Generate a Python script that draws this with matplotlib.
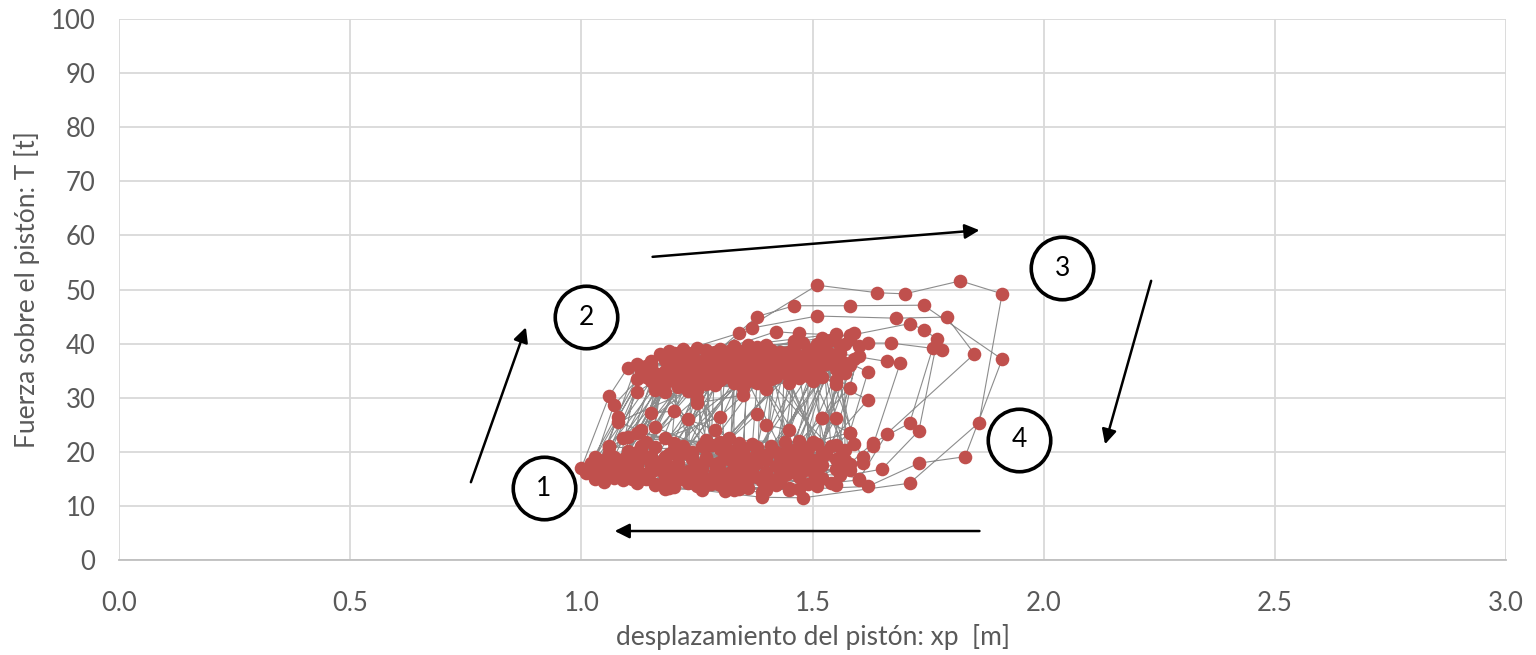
import matplotlib
matplotlib.use("Agg")
import matplotlib.pyplot as plt

plt.rcParams['font.family'] = ['Lato', 'DejaVu Sans']

# piston displacement [m] and force [t], in recorded order (loops)
xp_outer = [
    1.00, 1.06, 1.10, 1.20, 1.34, 1.51, 1.64, 1.70, 1.82, 1.91, 1.86, 1.71, 1.48, 1.39, 1.20, 1.05,
    1.02, 1.07, 1.15, 1.30, 1.38, 1.46, 1.58, 1.74, 1.91, 1.83, 1.73, 1.62, 1.45, 1.25, 1.08,
    1.04, 1.08, 1.13, 1.27, 1.37, 1.51, 1.68, 1.79, 1.85, 1.66, 1.60, 1.40, 1.18, 1.06,
    1.05, 1.12, 1.22, 1.42, 1.47, 1.58, 1.71, 1.74, 1.77, 1.73, 1.65, 1.50, 1.30, 1.10,
    1.07, 1.16, 1.30, 1.45, 1.62, 1.67, 1.78, 1.76, 1.71, 1.63, 1.57, 1.42, 1.25, 1.09,
    1.08, 1.18, 1.35, 1.50, 1.66, 1.69, 1.63, 1.61, 1.56, 1.40, 1.20,
    1.10, 1.20, 1.40, 1.55, 1.62, 1.58, 1.55, 1.48, 1.30, 1.12,
    1.12, 1.22, 1.38, 1.52, 1.58, 1.52, 1.55, 1.50, 1.35, 1.15,
    1.13, 1.25, 1.33, 1.48, 1.62, 1.52, 1.38, 1.18,
]
T_outer = [
    17.0, 30.3, 35.5, 38.2, 41.9, 50.8, 49.4, 49.2, 51.6, 49.2, 25.4, 14.2, 11.5, 11.6, 13.5, 14.4,
    16.0, 28.6, 36.0, 39.0, 45.0, 47.0, 47.0, 47.1, 37.1, 19.1, 17.9, 13.6, 13.0, 14.0, 15.5,
    18.5, 26.5, 34.0, 37.5, 42.9, 45.1, 44.7, 44.9, 38.1, 23.3, 14.8, 13.0, 14.5, 16.5,
    17.5, 31.0, 36.5, 42.2, 41.9, 41.5, 43.7, 42.6, 40.8, 23.9, 16.8, 14.5, 15.0, 16.0,
    19.0, 33.5, 36.0, 38.5, 40.1, 40.1, 38.9, 39.2, 25.3, 21.6, 17.0, 15.0, 16.0, 17.0,
    18.0, 35.0, 37.0, 39.0, 36.7, 36.5, 21.0, 19.1, 15.7, 16.0, 15.5,
    19.5, 34.5, 36.5, 37.5, 34.8, 23.5, 21.3, 16.5, 16.5, 17.5,
    20.0, 33.0, 35.5, 36.0, 31.8, 26.2, 26.2, 18.5, 17.0, 18.0,
    21.0, 30.0, 35.0, 35.5, 29.6, 20.0, 18.0, 19.0,
]

xp_inner = [
    1.15, 1.17, 1.28, 1.42, 1.40, 1.26,
    1.11, 1.19, 1.31, 1.46, 1.45, 1.28,
    1.09, 1.21, 1.34, 1.49, 1.49, 1.33,
    1.14, 1.24, 1.36, 1.51, 1.52, 1.36,
    1.06, 1.26, 1.39, 1.53, 1.56, 1.42,
    1.12, 1.29, 1.41, 1.55, 1.59, 1.44,
    1.17, 1.32, 1.44, 1.57, 1.57, 1.47,
    1.19, 1.35, 1.47, 1.54, 1.43, 1.30,
    1.21, 1.37, 1.49, 1.59, 1.50, 1.33,
    1.23, 1.40, 1.52, 1.56, 1.46, 1.24,
    1.16, 1.43, 1.48, 1.58, 1.41, 1.27,
    1.25, 1.45, 1.55, 1.60, 1.52, 1.35,
    1.27, 1.47, 1.38, 1.27, 1.22, 1.13,
    1.29, 1.25, 1.15, 1.12, 1.08, 1.03,
    1.31, 1.30, 1.20, 1.16, 1.12, 1.05,
    1.33, 1.33, 1.23, 1.18, 1.15, 1.09,
    1.35, 1.36, 1.26, 1.21, 1.19, 1.11,
    1.37, 1.42, 1.31, 1.24, 1.23, 1.16,
    1.39, 1.44, 1.34, 1.28, 1.26, 1.18,
    1.41, 1.46, 1.37, 1.31, 1.29, 1.21,
    1.43, 1.50, 1.40, 1.33, 1.32, 1.23,
    1.45, 1.52, 1.43, 1.36, 1.35, 1.26,
    1.47, 1.54, 1.46, 1.39, 1.38, 1.29,
    1.49, 1.57, 1.48, 1.41, 1.40, 1.31,
    1.51, 1.55, 1.50, 1.44, 1.43, 1.34,
    1.03, 1.15, 1.23, 1.34, 1.32, 1.20,
    1.07, 1.18, 1.27, 1.38, 1.37, 1.24,
    1.04, 1.14, 1.20, 1.29, 1.28, 1.17,
    1.02, 1.13, 1.19, 1.26, 1.25, 1.14,
    1.10, 1.22, 1.30, 1.40, 1.47, 1.36,
    1.13, 1.24, 1.35, 1.45, 1.54, 1.39,
    1.18, 1.28, 1.33, 1.51, 1.58, 1.55,
    1.20, 1.31, 1.41, 1.53, 1.61, 1.46,
    1.22, 1.36, 1.38, 1.50, 1.53, 1.48,
    1.26, 1.19, 1.31, 1.43, 1.51, 1.38,
    1.28, 1.27, 1.39, 1.46, 1.44, 1.34,
    1.30, 1.23, 1.34, 1.48, 1.57, 1.42,
    1.32, 1.16, 1.25, 1.37, 1.48, 1.37,
    1.34, 1.20, 1.29, 1.42, 1.55, 1.44,
    1.36, 1.14, 1.22, 1.35, 1.60, 1.49,
    1.06, 1.16, 1.25, 1.36, 1.44, 1.30,
    1.09, 1.18, 1.29, 1.40, 1.50, 1.38,
    1.12, 1.21, 1.32, 1.52, 1.54, 1.40,
    1.16, 1.25, 1.36, 1.55, 1.58, 1.45,
    1.08, 1.23, 1.33, 1.57, 1.52, 1.20,
    1.14, 1.27, 1.40, 1.59, 1.46, 1.27,
    1.18, 1.30, 1.45, 1.54, 1.42, 1.22,
    1.05, 1.20, 1.38, 1.56, 1.37, 1.19,
    1.10, 1.17, 1.32, 1.48, 1.34, 1.15,
    1.01, 1.15, 1.28, 1.44, 1.31, 1.13,
    1.07, 1.21, 1.35, 1.51, 1.39, 1.21,
    1.11, 1.24, 1.42, 1.58, 1.48, 1.26,
    1.16, 1.26, 1.37, 1.60, 1.55, 1.34,
    1.20, 1.29, 1.43, 1.52, 1.45, 1.32,
    1.24, 1.34, 1.39, 1.49, 1.36, 1.28,
    1.03, 1.12, 1.30, 1.46, 1.51, 1.33,
]
T_inner = [
    17.2, 34.2, 35.8, 36.2, 19.5, 17.8,
    16.2, 36.2, 37.2, 37.0, 18.2, 15.2,
    18.6, 37.5, 38.6, 38.2, 20.6, 14.6,
    15.0, 35.5, 34.6, 34.8, 17.6, 15.8,
    19.8, 33.6, 37.8, 38.8, 19.0, 17.4,
    14.2, 34.8, 34.0, 35.4, 21.5, 19.8,
    16.6, 37.8, 36.8, 36.4, 18.4, 15.4,
    19.6, 33.4, 33.6, 36.6, 16.8, 13.8,
    18.0, 38.0, 36.6, 37.2, 16.2, 18.9,
    15.6, 35.2, 37.4, 39.5, 20.4, 20.0,
    20.8, 38.4, 40.2, 40.8, 21.0, 19.0,
    17.0, 34.4, 33.2, 37.8, 15.2, 15.2,
    18.4, 37.0, 39.4, 38.8, 21.0, 16.0,
    16.2, 36.8, 35.0, 33.5, 16.8, 17.4,
    19.4, 34.0, 33.0, 31.5, 18.8, 15.8,
    17.6, 36.4, 38.2, 37.0, 19.2, 14.8,
    20.2, 36.0, 36.2, 34.8, 17.4, 19.0,
    16.6, 37.0, 35.4, 37.4, 16.4, 14.0,
    18.6, 35.8, 36.8, 36.2, 16.8, 15.2,
    14.6, 38.6, 36.6, 33.8, 14.8, 16.0,
    19.0, 35.6, 33.0, 34.6, 16.0, 14.2,
    16.0, 33.8, 35.6, 37.6, 19.6, 14.8,
    18.0, 38.0, 39.6, 39.2, 15.4, 17.8,
    14.0, 34.6, 34.2, 33.4, 18.4, 12.8,
    17.0, 32.5, 37.8, 38.2, 14.4, 16.4,
    19.0, 36.8, 34.0, 33.6, 20.4, 20.6,
    15.2, 32.8, 32.6, 32.8, 21.4, 18.6,
    16.4, 35.8, 36.0, 37.6, 21.2, 18.2,
    18.0, 35.0, 38.6, 35.2, 13.6, 18.8,
    17.0, 39.0, 38.9, 39.8, 13.2, 13.4,
    19.2, 32.6, 31.8, 32.8, 14.2, 12.6,
    13.2, 33.0, 39.6, 40.0, 16.6, 13.8,
    14.8, 36.2, 38.8, 36.2, 18.0, 18.6,
    19.8, 35.4, 34.2, 33.0, 19.6, 20.8,
    13.0, 34.2, 34.6, 37.2, 21.4, 20.8,
    21.2, 37.0, 36.0, 35.0, 21.8, 21.6,
    18.2, 36.6, 35.0, 37.8, 20.4, 13.8,
    14.0, 34.6, 33.4, 36.4, 17.2, 18.0,
    19.0, 37.6, 35.6, 35.0, 16.8, 15.8,
    15.0, 33.8, 35.0, 38.4, 15.0, 17.8,
    21.0, 32.0, 31.5, 33.0, 19.0, 21.8,
    22.5, 31.0, 32.4, 31.6, 18.0, 20.0,
    23.5, 38.2, 38.6, 41.0, 21.0, 16.2,
    24.5, 39.2, 39.8, 41.8, 17.8, 13.4,
    25.5, 31.2, 32.8, 40.0, 19.2, 21.6,
    21.8, 34.2, 37.2, 42.0, 16.6, 13.8,
    19.0, 33.2, 36.2, 40.6, 20.0, 15.0,
    18.2, 35.4, 37.4, 38.2, 15.6, 13.4,
    20.2, 38.0, 34.4, 36.0, 13.2, 16.2,
    16.0, 33.0, 37.8, 34.6, 21.2, 20.4,
    17.0, 32.0, 36.8, 35.6, 14.6, 19.6,
    15.0, 37.8, 33.8, 36.0, 19.2, 21.0,
    13.8, 34.0, 39.2, 39.6, 18.6, 19.8,
    16.4, 38.4, 36.4, 39.2, 17.6, 18.6,
    14.4, 33.2, 38.0, 34.0, 17.4, 14.0,
    15.0, 36.2, 36.6, 40.4, 13.6, 13.0,
]

xp_mid = [1.12, 1.13, 1.15, 1.20, 1.23, 1.29, 1.32, 1.24,
          1.30, 1.38, 1.40, 1.45, 1.47, 1.36,
          1.44, 1.52, 1.58, 1.50, 1.27, 1.25, 1.35, 1.30, 1.18, 1.10, 1.06]
T_mid = [17.8, 24.0, 27.2, 27.5, 26.0, 24.0, 22.5, 19.6,
         20.6, 27.0, 25.0, 24.0, 22.0, 18.8,
         19.2, 26.2, 23.5, 21.8, 22.2, 29.0, 30.5, 26.5, 22.5, 22.8, 20.8]

xp = xp_outer + xp_inner + xp_mid
T = T_outer + T_inner + T_mid

x_ticks = [0.0, 0.5, 1.0, 1.5, 2.0, 2.5, 3.0]
y_ticks = list(range(0, 101, 10))

# numbered phases of the cycle
phase_labels = ['1', '2', '3', '4']
phase_x = [0.919, 1.010, 2.040, 1.947]
phase_y = [13.3, 44.9, 53.9, 22.2]

# direction arrows: (x_start, y_start, x_end, y_end)
arrows = [
    (0.759, 13.9, 0.882, 43.5),
    (1.148, 56.0, 1.867, 61.0),
    (2.234, 52.1, 2.131, 20.9),
    (1.867, 5.36, 1.066, 5.36),
]

fig = plt.figure(figsize=(15.36, 6.55), dpi=100)
ax = fig.add_axes([0.0775, 0.145, 0.903, 0.826])

ax.plot(xp, T, '-', color='#8c8c8c', lw=0.8, zorder=2)
ax.plot(xp, T, 'o', color='#c0504d', ms=9.8, mew=0, zorder=3)

for lab, x, y in zip(phase_labels, phase_x, phase_y):
    ax.plot(x, y, 'o', ms=45, mfc='white', mec='black', mew=2.6, zorder=5)
    ax.text(x, y, lab, ha='center', va='center', fontsize=19, color='black', zorder=6)

for x0, y0, x1, y1 in arrows:
    ax.annotate('', xy=(x1, y1), xytext=(x0, y0),
                arrowprops=dict(arrowstyle='-|>', color='black', lw=1.8, mutation_scale=22),
                zorder=6)

ax.set_xlim(0, 3.0)
ax.set_ylim(0, 100)
ax.set_xticks(x_ticks)
ax.set_xticklabels(['%.1f' % v for v in x_ticks])
ax.set_yticks(y_ticks)
ax.grid(True, color='#d9d9d9', lw=1.3)
ax.set_axisbelow(True)
for s in ['top', 'right', 'left']:
    ax.spines[s].set_visible(False)
ax.spines['bottom'].set_color('#bfbfbf')
ax.spines['bottom'].set_linewidth(1.3)
ax.tick_params(length=0, labelsize=18.5, colors='#595959')
ax.tick_params(axis='x', pad=22)
ax.tick_params(axis='y', pad=17)

ax.set_xlabel('desplazamiento del pistón: xp  [m]', fontsize=19, color='#595959', labelpad=6)
ax.set_ylabel('Fuerza sobre el pistón: T [t]', fontsize=19, color='#595959', labelpad=8)

fig.savefig('out.png', dpi=100)
